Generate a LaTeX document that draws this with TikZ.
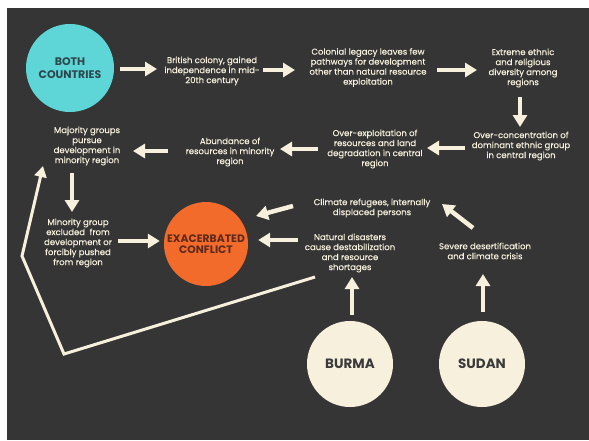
\documentclass[tikz,border=0pt]{standalone}
\usepackage{fontspec}
\setmainfont{Poppins}
\newfontfamily\bodyfont{Poppins}[FakeBold=0.35]
\usetikzlibrary{arrows.meta,calc}
\definecolor{bg}{HTML}{353535}
\definecolor{cream}{HTML}{F6F0DC}
\definecolor{teal}{HTML}{5ED6D8}
\definecolor{tealtext}{HTML}{2D474C}
\definecolor{orange}{HTML}{F26B2B}
\definecolor{orangetext}{HTML}{5E2A1C}
\definecolor{circtext}{HTML}{3A3A3A}
\begin{document}
\begin{tikzpicture}[x=1pt,y=-1pt,
  txt/.style={text=cream, font=\bodyfont\fontsize{8.5}{10}\selectfont, align=center, inner sep=0pt},
  circ/.style={circle, inner sep=0pt, align=center},
  bigarr/.style={draw=cream, line width=4.5pt, -{Triangle[width=14pt,length=12pt]}},
  thinarr/.style={draw=cream, line width=3pt, line join=miter, -{Triangle[width=12pt,length=11pt]}}]
\useasboundingbox (0,0) rectangle (589,440);
\fill[white] (0,0) rectangle (589,440);
\fill[bg] (7,8) rectangle (589,440);

% circles
\node[circ, fill=teal, minimum size=88pt, text=tealtext, font=\bfseries\fontsize{11}{12.5}\selectfont] (both) at (70,68) {BOTH\\COUNTRIES};
\node[circ, fill=orange, minimum size=84pt, text=orangetext, font=\bfseries\fontsize{10.8}{11.5}\selectfont] (conflict) at (206,244) {EXACERBATED\\CONFLICT};
\node[circ, fill=cream, minimum size=86pt, text=circtext, font=\bfseries\fontsize{13.5}{15}\selectfont] (burma) at (350,364) {BURMA};
\node[circ, fill=cream, minimum size=86pt, text=circtext, font=\bfseries\fontsize{13.5}{15}\selectfont] (sudan) at (482,364) {SUDAN};

% texts
\node[txt] (t1) at (212,71) {British colony, gained\\independence in mid-\\20th century};
\node[txt] (t2) at (368,67.5) {Colonial legacy leaves few\\pathways for development\\other than natural resource\\exploitation};
\node[txt] (t3) at (523,68) {Extreme ethnic\\and religious\\diversity among\\regions};
\node[txt] (t4) at (521,146) {Over-concentration of\\dominant ethnic group\\in central region};
\node[txt] (t5) at (375,149) {Over-exploitation of\\resources and land\\degradation in central\\region};
\node[txt] (t6) at (230,152) {Abundance of\\resources in minority\\region};
\node[txt] (t7) at (87,146) {Majority groups\\pursue\\development in\\minority region};
\node[txt] (t8) at (78,243) {Minority group\\excluded\ \ from\\development or\\forcibly pushed\\from region};
\node[txt] (t9) at (372,208) {Climate refugees, internally\\displaced persons};
\node[txt] (t10) at (350,253) {Natural disasters\\cause destabilization\\and resource\\shortages};
\node[txt] (t11) at (485,251) {Severe desertification\\and climate crisis};

% arrows
\draw[bigarr] ($(both.east)+(6,1)$) -- ($(t1)+(-55,-2)$);
\draw[bigarr] ($(t1)+(51,-1)$) -- ($(t2)+(-73,2.5)$);
\draw[bigarr] ($(t2)+(69,2.5)$) -- ($(t3)+(-46,2)$);
\draw[bigarr] ($(t3)+(-3,29)$) -- ($(t4)+(-1,-19)$);
\draw[bigarr] ($(t4)+(-56,2)$) -- ($(t5)+(52,-1)$);
\draw[bigarr] ($(t5)+(-57,0)$) -- ($(t6)+(50,-3)$);
\draw[bigarr] ($(t6)+(-62,-1)$) -- ($(t7)+(46,5)$);
\draw[bigarr] ($(t7)+(-15,27)$) -- ($(t8)+(-6,-31)$);
\draw[bigarr] ($(t8)+(40,-2)$) -- ($(conflict.west)+(-4,-3)$);
\draw[bigarr] ($(t9)+(-79,-2)$) -- ($(conflict)+(50,-28)$);
\draw[bigarr] ($(t10)+(-52,-13)$) -- ($(conflict.east)+(10,-4)$);
\draw[bigarr] ($(t11)+(-12,-23)$) -- ($(t9)+(70,-4)$);
\draw[bigarr] ($(burma.north)+(2,-6)$) -- ($(t10)+(2,24)$);
\draw[bigarr] ($(sudan.north)+(1,-9)$) -- ($(t11)+(-2,23)$);

% feedback loop
\draw[thinarr] ($(t10)+(-35,24)$) -- (64,354) -- (22,256) -- ($(t7)+(-44,20)$);
\end{tikzpicture}
\end{document}
